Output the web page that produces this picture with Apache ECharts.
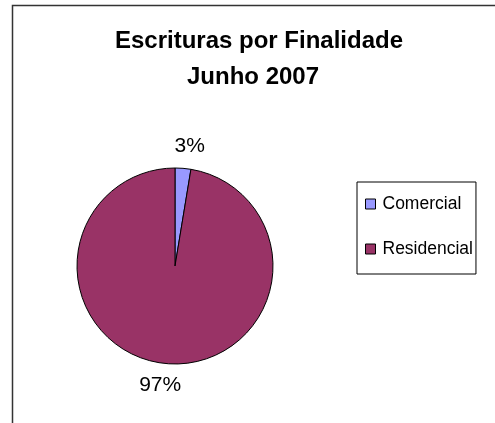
<!DOCTYPE html>
<html>
<head>
<meta charset="utf-8">
<script src="https://cdn.jsdelivr.net/npm/echarts@6/dist/echarts.min.js"></script>
<style>
  html, body { margin: 0; padding: 0; background: #fff; }
  #chart { width: 495px; height: 423px; }
</style>
</head>
<body>
<div id="chart"></div>
<script>
// dados
const categorias = ['Comercial', 'Residencial'];
const valores = [2.6, 97.4];
const cores = ['#9999FF', '#993366'];

const chartDom = document.getElementById('chart');
const myChart = echarts.init(chartDom);
const fonte = '"Liberation Sans", Arial, sans-serif';

const option = {
  animation: false,
  backgroundColor: '#fff',
  title: [
    {
      text: 'Escrituras por Finalidade',
      left: 259, top: 29, padding: 0, textAlign: 'center',
      textStyle: { fontFamily: fonte, fontSize: 24, fontWeight: 'bold', color: '#000' }
    },
    {
      text: 'Junho 2007',
      left: 253, top: 65, padding: 0, textAlign: 'center',
      textStyle: { fontFamily: fonte, fontSize: 24, fontWeight: 'bold', color: '#000' }
    }
  ],
  graphic: [
    {
      type: 'rect',
      shape: { x: 12.5, y: 5.5, width: 700, height: 700 },
      style: { fill: 'none', stroke: '#333', lineWidth: 1.5 },
      silent: true
    }
  ],
  legend: {
    orient: 'vertical',
    left: 357, top: 182,
    padding: [12, 3, 15, 8],
    borderColor: '#000', borderWidth: 1,
    itemWidth: 10, itemHeight: 10, itemGap: 25,
    icon: 'rect',
    itemStyle: { borderColor: '#000', borderWidth: 1 },
    textStyle: { fontFamily: fonte, fontSize: 17.5, color: '#000', lineHeight: 20, padding: [0, 0, 0, 2] },
    data: categorias
  },
  series: [
    {
      type: 'pie',
      center: [175, 266],
      radius: 98,
      startAngle: 90,
      clockwise: true,
      avoidLabelOverlap: false,
      itemStyle: { borderColor: '#000', borderWidth: 1 },
      label: {
        show: true,
        position: 'outside',
        fontFamily: fonte, fontSize: 21, color: '#000',
        formatter: p => Math.round(p.percent) + '%'
      },
      labelLine: { show: false, length: 22, length2: 0 },
      labelLayout: { align: 'center' },
      emphasis: { disabled: true },
      data: categorias.map((c, i) => ({ name: c, value: valores[i], itemStyle: { color: cores[i] } }))
    }
  ]
};

option && myChart.setOption(option);
</script>
</body>
</html>
